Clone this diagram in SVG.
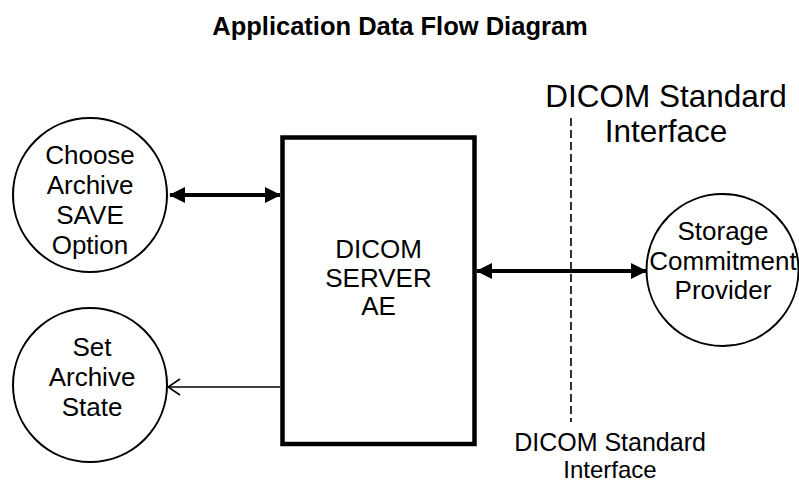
<svg xmlns="http://www.w3.org/2000/svg" width="799" height="484" viewBox="0 0 799 484">
<defs>
<style>
text{font-family:"Liberation Sans",Arial,sans-serif;fill:#000;text-anchor:middle}
.t{font-size:26px}
.title{font-size:25.5px;font-weight:bold}
.node{fill:#fff;stroke:#000;stroke-width:2}
.box{fill:#fff;stroke:#000;stroke-width:4.5}
.thick{stroke:#000;stroke-width:4;fill:none}
.thin{stroke:#000;stroke-width:1.6;fill:none}
</style>
<marker id="fa" viewBox="0 0 16 16" refX="15" refY="8" markerWidth="16" markerHeight="16" markerUnits="userSpaceOnUse" orient="auto-start-reverse">
<path d="M0,0 L16,8 L0,16 Z" fill="#000"/>
</marker>
<marker id="oa" viewBox="0 0 14 18" refX="13" refY="9" markerWidth="14" markerHeight="18" markerUnits="userSpaceOnUse" orient="auto">
<path d="M1,1 L13,9 L1,17" fill="none" stroke="#000" stroke-width="1.6"/>
</marker>
</defs>
<rect width="799" height="484" fill="#fff"/>
<text class="title" x="400" y="35">Application Data Flow Diagram</text>

<g id="connectors">
<line class="thick" x1="170" y1="195" x2="280" y2="195" marker-start="url(#fa)" marker-end="url(#fa)"/>
<line class="thin" x1="280" y1="387" x2="168" y2="387" marker-end="url(#oa)"/>
<line class="thick" x1="477" y1="271" x2="646" y2="271" marker-start="url(#fa)" marker-end="url(#fa)"/>
</g>

<g id="boundary">
<line x1="571" y1="118" x2="571" y2="422" stroke="#000" stroke-width="1.6" stroke-dasharray="8,4"/>
<text x="666" y="107" style="font-size:31.5px">DICOM Standard</text>
<text x="666" y="142" style="font-size:31.5px">Interface</text>
<text x="610" y="451" style="font-size:25px">DICOM Standard</text>
<text x="610" y="478" style="font-size:24px">Interface</text>
</g>

<g id="choose-archive">
<circle class="node" cx="90" cy="195" r="77"/>
<text class="t" x="90" y="164">Choose</text>
<text class="t" x="90" y="194">Archive</text>
<text class="t" x="90" y="224">SAVE</text>
<text class="t" x="90" y="254">Option</text>
</g>

<g id="set-archive">
<circle class="node" cx="90" cy="385" r="77"/>
<text class="t" x="92" y="356">Set</text>
<text class="t" x="92" y="386">Archive</text>
<text class="t" x="92" y="416">State</text>
</g>

<g id="dicom-server">
<rect class="box" x="282.5" y="137.5" width="192" height="306.5"/>
<text class="t" x="378.5" y="258">DICOM</text>
<text class="t" x="378.5" y="287">SERVER</text>
<text class="t" x="378.5" y="315">AE</text>
</g>

<g id="storage-commitment">
<circle class="node" cx="722.5" cy="270" r="76"/>
<text class="t" x="723" y="240">Storage</text>
<text class="t" x="723" y="270">Commitment</text>
<text class="t" x="723" y="299">Provider</text>
</g>
</svg>
